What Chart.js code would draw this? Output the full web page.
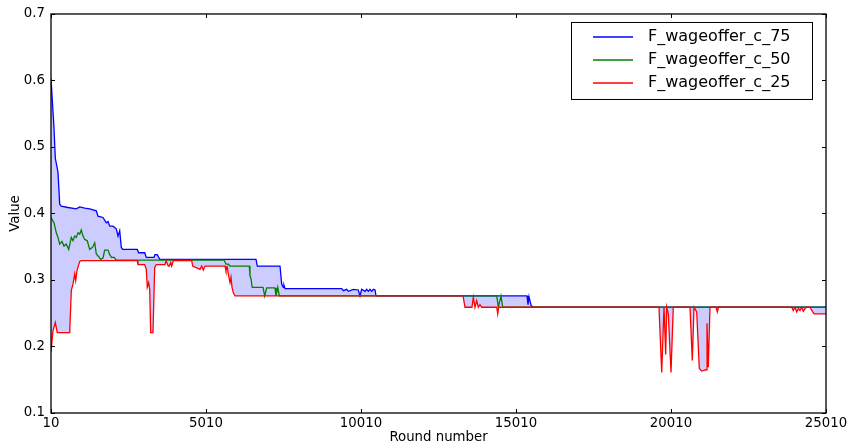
<!DOCTYPE html>
<html>
<head>
<meta charset="utf-8">
<script src="https://cdn.jsdelivr.net/npm/chart.js@4.4.1/dist/chart.umd.min.js"></script>
<style>
  html, body { margin: 0; padding: 0; background: #fff; }
</style>
</head>
<body>
<canvas id="myChart" width="851" height="446"></canvas>
<script>
// wage offer percentiles per round
var seriesLabels = ['F_wageoffer_c_75', 'F_wageoffer_c_50', 'F_wageoffer_c_25'];

var rounds75 = [10, 107, 149, 213, 236, 291, 342, 558, 826, 936, 1100, 1258, 1471, 1526, 1687,
  1794, 1849, 1904, 2010, 2116, 2171, 2226, 2278, 2323, 2794, 2838, 3033, 3084, 3333, 3365,
  3439, 3517, 6623, 6665, 7397, 7452, 7504, 7526, 7558, 9387, 9440, 9548, 9601, 9762, 9923,
  9978, 10032, 10139, 10193, 10247, 10300, 10355, 10408, 10462, 10494, 15365, 15397, 15429, 15494, 15558,
  25010];
var wage75 = [0.603, 0.528, 0.483, 0.468, 0.461, 0.414, 0.411, 0.409, 0.407, 0.410, 0.408, 0.407, 0.404, 0.396, 0.394,
  0.386, 0.388, 0.381, 0.381, 0.377, 0.366, 0.374, 0.349, 0.346, 0.346, 0.341, 0.341, 0.334, 0.334, 0.338,
  0.338, 0.331, 0.331, 0.321, 0.321, 0.294, 0.289, 0.292, 0.287, 0.287, 0.284, 0.286, 0.283, 0.286, 0.285,
  0.276, 0.286, 0.283, 0.286, 0.283, 0.286, 0.283, 0.286, 0.285, 0.276, 0.276, 0.263, 0.275, 0.262, 0.259,
  0.259];

var rounds50 = [10, 107, 181, 236, 291, 365, 429, 500, 581, 665, 720, 775, 826, 881, 936,
  987, 1042, 1097, 1180, 1258, 1350, 1420, 1471, 1549, 1613, 1687, 1742, 1849, 1904, 1960,
  2050, 2116, 5591, 5655, 5730, 5784, 6407, 6429, 6462, 6500, 6849, 6904, 6968, 7236, 7268,
  7323, 7375, 14388, 14441, 14526, 14580, 25010];
var wage50 = [0.394, 0.386, 0.371, 0.364, 0.354, 0.358, 0.351, 0.354, 0.346, 0.364, 0.359, 0.366, 0.364, 0.371, 0.369,
  0.375, 0.366, 0.361, 0.359, 0.346, 0.349, 0.356, 0.339, 0.335, 0.331, 0.333, 0.345, 0.345, 0.338, 0.334,
  0.334, 0.330, 0.330, 0.324, 0.324, 0.321, 0.321, 0.306, 0.302, 0.289, 0.289, 0.276, 0.288, 0.288, 0.276,
  0.289, 0.276, 0.276, 0.259, 0.276, 0.259, 0.259];

var rounds25 = [10, 75, 149, 213, 613, 665, 720, 775, 807, 849, 936, 987, 2794, 2816, 3033,
  3084, 3116, 3160, 3194, 3226, 3300, 3355, 3407, 3688, 3720, 3794, 3827, 3871, 3903, 3956,
  4548, 4581, 4817, 4871, 4923, 4978, 5623, 5655, 5698, 5730, 5784, 5817, 5849, 5891, 5946,
  13300, 13365, 13590, 13633, 13687, 13742, 13794, 13849, 13903, 14388, 14420, 14452, 19623, 19710, 19784,
  19839, 19871, 19923, 20010, 20084, 20623, 20697, 20752, 20839, 20923, 21000, 21074, 21140, 21171, 21213,
  21268, 21462, 21504, 21542, 23903, 23955, 24010, 24065, 24123, 24171, 24226, 24278, 24333, 24387, 24494,
  24581, 24623, 25010];
var wage25 = [0.192, 0.224, 0.236, 0.221, 0.221, 0.284, 0.294, 0.309, 0.299, 0.314, 0.328, 0.329, 0.329, 0.323, 0.323,
  0.316, 0.289, 0.296, 0.286, 0.221, 0.221, 0.319, 0.323, 0.323, 0.329, 0.321, 0.321, 0.326, 0.321, 0.329,
  0.329, 0.321, 0.316, 0.321, 0.315, 0.321, 0.321, 0.314, 0.319, 0.309, 0.296, 0.304, 0.289, 0.281, 0.276,
  0.276, 0.259, 0.259, 0.274, 0.259, 0.269, 0.259, 0.263, 0.259, 0.259, 0.249, 0.259, 0.259, 0.161, 0.259,
  0.188, 0.259, 0.249, 0.161, 0.259, 0.259, 0.179, 0.259, 0.252, 0.167, 0.163, 0.164, 0.165, 0.235, 0.169,
  0.259, 0.259, 0.252, 0.259, 0.259, 0.254, 0.259, 0.252, 0.257, 0.254, 0.259, 0.253, 0.257, 0.259, 0.259,
  0.252, 0.249, 0.249];

var xTicks = [10, 5010, 10010, 15010, 20010, 25010];
var yTicks = [0.1, 0.2, 0.3, 0.4, 0.5, 0.6, 0.7];

var lineColors = ['#0000ff', '#008000', '#ff0000'];

function toPoints(xs, ys) {
  return xs.map(function (x, i) { return { x: x, y: ys[i] }; });
}

var FONT = 'DejaVu Sans';

// box + inward ticks on all four sides
var axesFrame = {
  id: 'axesFrame',
  afterDraw: function (chart) {
    var ctx = chart.ctx, a = chart.chartArea;
    var xs = chart.scales.x, ys = chart.scales.y;
    ctx.save();
    ctx.strokeStyle = '#000';
    ctx.lineWidth = 1;
    ctx.beginPath();
    xs.ticks.forEach(function (t) {
      var px = Math.round(xs.getPixelForValue(t.value)) + 0.5;
      ctx.moveTo(px, a.bottom); ctx.lineTo(px, a.bottom - 4);
      ctx.moveTo(px, a.top); ctx.lineTo(px, a.top + 4);
    });
    ys.ticks.forEach(function (t) {
      var py = Math.round(ys.getPixelForValue(t.value)) + 0.5;
      ctx.moveTo(a.left, py); ctx.lineTo(a.left + 4, py);
      ctx.moveTo(a.right, py); ctx.lineTo(a.right - 4, py);
    });
    ctx.stroke();
    ctx.lineWidth = 1.3;
    ctx.strokeRect(a.left, a.top, a.right - a.left, a.bottom - a.top);
    ctx.restore();
  }
};

// framed legend in the upper right corner
var legendBox = {
  id: 'legendBox',
  afterDraw: function (chart) {
    var ctx = chart.ctx, a = chart.chartArea;
    var x0 = a.right - 255, y0 = a.top + 8, w = 241, h = 77;
    ctx.save();
    ctx.fillStyle = '#fff';
    ctx.fillRect(x0, y0, w, h);
    ctx.strokeStyle = '#000';
    ctx.lineWidth = 1;
    ctx.strokeRect(x0 + 0.5, y0 + 0.5, w, h);
    ctx.font = '16px "' + FONT + '"';
    ctx.textBaseline = 'middle';
    ctx.fillStyle = '#000';
    chart.data.datasets.forEach(function (ds, i) {
      var cy = y0 + 15 + i * 23;
      ctx.strokeStyle = ds.borderColor;
      ctx.lineWidth = 1.3;
      ctx.beginPath();
      ctx.moveTo(x0 + 22, cy);
      ctx.lineTo(x0 + 62, cy);
      ctx.stroke();
      ctx.fillText(ds.label, x0 + 77, cy);
    });
    ctx.restore();
  }
};

var ctx = document.getElementById('myChart').getContext('2d');
var myChart = new Chart(ctx, {
  type: 'line',
  data: {
    datasets: [
      {
        label: seriesLabels[0],
        data: toPoints(rounds75, wage75),
        borderColor: lineColors[0],
        backgroundColor: 'rgba(0, 0, 255, 0.2)',
        fill: { target: 2 },
        order: 3
      },
      {
        label: seriesLabels[1],
        data: toPoints(rounds50, wage50),
        borderColor: lineColors[1],
        fill: false,
        order: 2
      },
      {
        label: seriesLabels[2],
        data: toPoints(rounds25, wage25),
        borderColor: lineColors[2],
        fill: false,
        order: 1
      }
    ]
  },
  options: {
    responsive: false,
    animation: false,
    layout: { padding: { top: 12, right: 25, left: 0, bottom: 0 } },
    elements: {
      line: { borderWidth: 1.3, tension: 0 },
      point: { radius: 0, hoverRadius: 0 }
    },
    plugins: {
      legend: { display: false },
      tooltip: { enabled: false },
      filler: { drawTime: 'beforeDatasetsDraw' }
    },
    scales: {
      x: {
        type: 'linear',
        min: 10,
        max: 25010,
        afterBuildTicks: function (scale) {
          scale.ticks = xTicks.map(function (v) { return { value: v }; });
        },
        afterFit: function (scale) { scale.height = 33; },
        grid: { display: false, drawTicks: false },
        border: { display: false },
        ticks: {
          autoSkip: false,
          maxRotation: 0,
          padding: 3,
          color: '#000',
          font: { family: FONT, size: 13.3 },
          callback: function (v) { return String(v); }
        },
        title: {
          display: true,
          text: 'Round number',
          color: '#000',
          padding: { top: 0, bottom: 0 },
          font: { family: FONT, size: 13.3 }
        }
      },
      y: {
        min: 0.1,
        max: 0.7,
        afterBuildTicks: function (scale) {
          scale.ticks = yTicks.map(function (v) { return { value: v }; });
        },
        afterFit: function (scale) { scale.width = 51; },
        grid: { display: false, drawTicks: false },
        border: { display: false },
        ticks: {
          padding: 6,
          color: '#000',
          font: { family: FONT, size: 13.3 },
          callback: function (v) { return v.toFixed(1); }
        },
        title: {
          display: true,
          text: 'Value',
          color: '#000',
          padding: { top: 8, bottom: 0 },
          font: { family: FONT, size: 13.3 }
        }
      }
    }
  },
  plugins: [axesFrame, legendBox]
});
</script>
</body>
</html>
